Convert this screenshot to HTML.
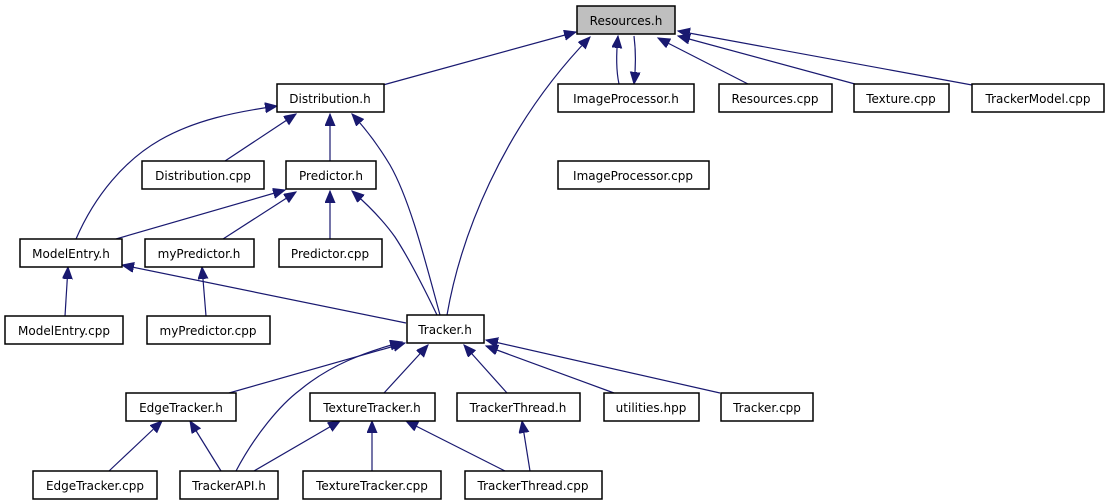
<!DOCTYPE html>
<html><head><meta charset="utf-8"><style>
html,body{margin:0;padding:0;background:#fff;}
svg{display:block;}
text{font-family:"DejaVu Sans","Liberation Sans",sans-serif;font-size:12px;fill:#000;}
.n{fill:#fff;stroke:#000;stroke-width:1.5;}
.e{fill:none;stroke:#191970;stroke-width:1.2;}
</style></head><body>
<svg width="1108" height="504" viewBox="0 0 1108 504">
<defs>
<marker id="a" markerUnits="userSpaceOnUse" markerWidth="14" markerHeight="12" refX="12" refY="5" orient="auto">
<path d="M0,0 L12,5 L0,10 z" fill="#191970" stroke="#191970"/>
</marker>
</defs>
<g class="e" marker-end="url(#a)">
<path d="M383,85 L576,32"/>
<path d="M447,315 C460,240 500,130 590,37"/>
<path d="M619,84 C616,70 616,55 618,36"/>
<path d="M634,36 C636,52 636,66 634,84" />
<path d="M748,84 L658,38"/>
<path d="M855,84 L678,36"/>
<path d="M972,85 L678,31"/>
<path d="M225,161 L296,114"/>
<path d="M330,161 L330,114"/>
<path d="M76,239 C95,195 125,160 160,140 C195,120 235,112 277,106"/>
<path d="M440,315 C425,260 410,200 390,165 C378,145 365,128 352,114"/>
<path d="M116,239 L285,190"/>
<path d="M223,239 L296,192"/>
<path d="M330,239 L330,191"/>
<path d="M437,315 C425,290 410,260 395,237 C383,220 368,205 352,191"/>
<path d="M65,316 L68,267"/>
<path d="M206,316 L202,267"/>
<path d="M406,323 L122,265"/>
<path d="M229,393 L405,343"/>
<path d="M236,471 C255,435 280,405 300,390 C330,365 365,352 402,342"/>
<path d="M384,393 L428,345"/>
<path d="M507,393 L464,345"/>
<path d="M614,393 L486,346"/>
<path d="M720,393 L486,340"/>
<path d="M109,471 L162,421"/>
<path d="M221,471 L190,421"/>
<path d="M254,471 L340,421"/>
<path d="M372,471 L372,421"/>
<path d="M505,471 L406,421"/>
<path d="M530,471 L522,421"/>
</g>
<rect x="577" y="6" width="98" height="28" fill="#bfbfbf" stroke="#000" stroke-width="1.5"/>
<text x="626" y="25" text-anchor="middle">Resources.h</text>
<g>
<rect class="n" x="277" y="84" width="107" height="28"/><text x="330" y="103" text-anchor="middle">Distribution.h</text>
<rect class="n" x="558" y="84" width="136" height="28"/><text x="626" y="103" text-anchor="middle">ImageProcessor.h</text>
<rect class="n" x="719" y="84" width="113" height="28"/><text x="775" y="103" text-anchor="middle">Resources.cpp</text>
<rect class="n" x="854" y="84" width="95" height="28"/><text x="901" y="103" text-anchor="middle">Texture.cpp</text>
<rect class="n" x="972" y="84" width="132" height="28"/><text x="1038" y="103" text-anchor="middle">TrackerModel.cpp</text>
<rect class="n" x="142" y="161" width="122" height="28"/><text x="203" y="180" text-anchor="middle">Distribution.cpp</text>
<rect class="n" x="286" y="161" width="90" height="28"/><text x="331" y="180" text-anchor="middle">Predictor.h</text>
<rect class="n" x="558" y="161" width="151" height="28"/><text x="633" y="180" text-anchor="middle">ImageProcessor.cpp</text>
<rect class="n" x="20" y="239" width="102" height="28"/><text x="71" y="258" text-anchor="middle">ModelEntry.h</text>
<rect class="n" x="145" y="239" width="109" height="28"/><text x="199" y="258" text-anchor="middle">myPredictor.h</text>
<rect class="n" x="279" y="239" width="103" height="28"/><text x="330" y="258" text-anchor="middle">Predictor.cpp</text>
<rect class="n" x="5" y="316" width="118" height="28"/><text x="64" y="335" text-anchor="middle">ModelEntry.cpp</text>
<rect class="n" x="147" y="316" width="123" height="28"/><text x="208" y="335" text-anchor="middle">myPredictor.cpp</text>
<rect class="n" x="407" y="315" width="77" height="28"/><text x="445" y="334" text-anchor="middle">Tracker.h</text>
<rect class="n" x="126" y="393" width="110" height="28"/><text x="181" y="412" text-anchor="middle">EdgeTracker.h</text>
<rect class="n" x="310" y="393" width="125" height="28"/><text x="372" y="412" text-anchor="middle">TextureTracker.h</text>
<rect class="n" x="457" y="393" width="123" height="28"/><text x="518" y="412" text-anchor="middle">TrackerThread.h</text>
<rect class="n" x="604" y="393" width="95" height="28"/><text x="651" y="412" text-anchor="middle">utilities.hpp</text>
<rect class="n" x="721" y="393" width="92" height="28"/><text x="767" y="412" text-anchor="middle">Tracker.cpp</text>
<rect class="n" x="33" y="471" width="124" height="28"/><text x="95" y="490" text-anchor="middle">EdgeTracker.cpp</text>
<rect class="n" x="180" y="471" width="98" height="28"/><text x="229" y="490" text-anchor="middle">TrackerAPI.h</text>
<rect class="n" x="303" y="471" width="138" height="28"/><text x="372" y="490" text-anchor="middle">TextureTracker.cpp</text>
<rect class="n" x="465" y="471" width="137" height="28"/><text x="533" y="490" text-anchor="middle">TrackerThread.cpp</text>
</g>
</svg>
</body></html>
